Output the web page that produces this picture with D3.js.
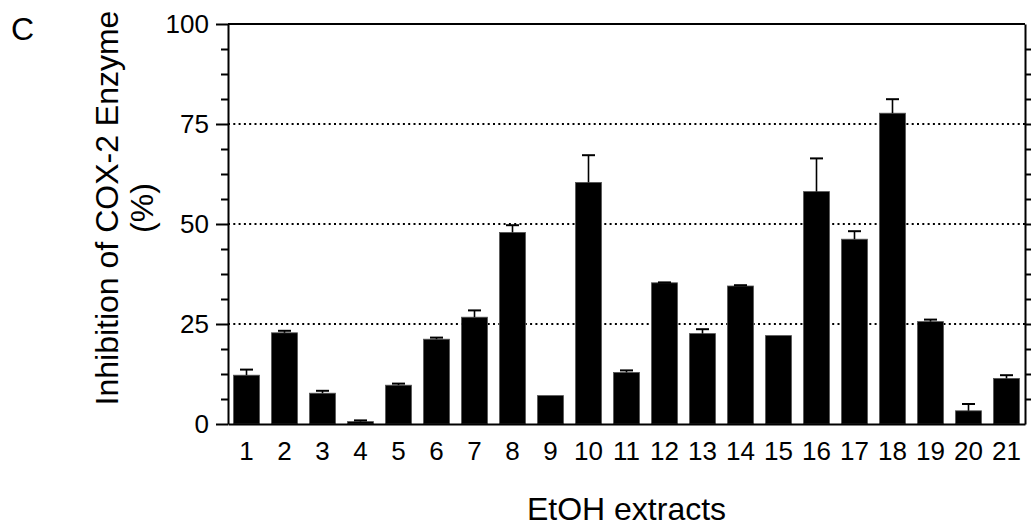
<!DOCTYPE html>
<html>
<head>
<meta charset="utf-8">
<script src="https://cdn.jsdelivr.net/npm/d3@7"></script>
<style>
  body { margin: 0; background: #fff; }
  svg { display: block; font-family: "Liberation Sans", Arial, sans-serif; }
  .axis path, .axis line { stroke: #000; stroke-width: 2; }
  .axis text { fill: #000; font-size: 26px; font-family: "Liberation Sans", Arial, sans-serif; }
</style>
</head>
<body>
<div id="chart"></div>
<script>
// extracts 1..21, inhibition (%) and SEM
const categories = ["1","2","3","4","5","6","7","8","9","10","11","12","13","14","15","16","17","18","19","20","21"];
const values = [12.2, 22.8, 7.7, 0.6, 9.7, 21.2, 26.7, 47.9, 7.1, 60.4, 12.9, 35.3, 22.6, 34.5, 22.1, 58.1, 46.2, 77.7, 25.6, 3.3, 11.4];
const errors = [1.4, 0.5, 0.6, 0.3, 0.4, 0.4, 1.7, 1.8, 0, 6.8, 0.5, 0.1, 1.1, 0.2, 0, 8.3, 2.0, 3.5, 0.5, 1.7, 0.8];
const yTicks = [0, 25, 50, 75, 100];
const gridVals = [25, 50, 75];

(() => {
  const width = 1032, height = 531;
  const left = 228, right = 1025, top = 24, bottom = 424;

  const svg = d3.select("#chart").append("svg")
    .attr("width", width).attr("height", height);

  const x = d3.scaleBand()
    .domain(categories)
    .range([left, right])
    .paddingInner(0.316)
    .paddingOuter(0.145);

  const y = d3.scaleLinear().domain([0, 100]).range([bottom, top]);

  const minor = d3.range(0, 100.01, 6.25).filter(v => !yTicks.includes(v));

  // grid
  svg.append("g").selectAll("line")
    .data(gridVals)
    .join("line")
    .attr("x1", left).attr("x2", right)
    .attr("y1", d => y(d)).attr("y2", d => y(d))
    .attr("stroke", "#000")
    .attr("stroke-width", 2)
    .attr("stroke-dasharray", "2,3.3");

  // bars
  svg.append("g").selectAll("rect")
    .data(categories)
    .join("rect")
    .attr("x", d => x(d))
    .attr("width", x.bandwidth())
    .attr("y", (d, i) => y(values[i]))
    .attr("height", (d, i) => y(0) - y(values[i]))
    .attr("fill", "#000")
    .attr("stroke", "#555")
    .attr("stroke-width", 0.8);

  // error bars (upper only)
  const eb = svg.append("g").selectAll("g")
    .data(categories.filter((d, i) => errors[i] > 0))
    .join("g");
  const idx = d => categories.indexOf(d);
  const cx = d => x(d) + x.bandwidth() / 2;
  eb.append("line")
    .attr("x1", cx).attr("x2", cx)
    .attr("y1", d => y(values[idx(d)]))
    .attr("y2", d => y(values[idx(d)] + errors[idx(d)]))
    .attr("stroke", "#000").attr("stroke-width", 1.6);
  eb.append("line")
    .attr("x1", d => cx(d) - 6.5).attr("x2", d => cx(d) + 6.5)
    .attr("y1", d => y(values[idx(d)] + errors[idx(d)]))
    .attr("y2", d => y(values[idx(d)] + errors[idx(d)]))
    .attr("stroke", "#000").attr("stroke-width", 2);

  // left axis, major + minor
  svg.append("g").attr("class", "axis")
    .attr("transform", `translate(${left},0)`)
    .call(d3.axisLeft(y).tickValues(yTicks).tickSize(12).tickSizeOuter(0).tickPadding(7));
  svg.append("g").attr("class", "axis")
    .attr("transform", `translate(${left},0)`)
    .call(d3.axisLeft(y).tickValues(minor).tickSize(7).tickFormat(""))
    .select(".domain").remove();

  // right axis
  svg.append("g").attr("class", "axis")
    .attr("transform", `translate(${right},0)`)
    .call(d3.axisRight(y).tickValues(d3.range(6.25, 100, 6.25)).tickSize(6).tickSizeOuter(0).tickFormat(""));

  // top border
  svg.append("line")
    .attr("x1", left).attr("x2", right)
    .attr("y1", y(100)).attr("y2", y(100))
    .attr("stroke", "#000").attr("stroke-width", 2);

  // x axis
  svg.append("g").attr("class", "axis")
    .attr("transform", `translate(0,${bottom})`)
    .call(d3.axisBottom(x).tickSize(0).tickSizeOuter(0).tickPadding(18));

  // titles
  svg.append("text")
    .attr("x", (left + right) / 2).attr("y", 520)
    .attr("text-anchor", "middle")
    .style("font-size", "32px")
    .text("EtOH extracts");

  const yt = svg.append("text")
    .attr("transform", "translate(0,208) rotate(-90)")
    .attr("text-anchor", "middle")
    .style("font-size", "32px");
  yt.append("tspan").attr("x", 0).attr("y", 118).text("Inhibition of COX-2 Enzyme");
  yt.append("tspan").attr("x", 0).attr("y", 153).text("(%)");

  svg.append("text")
    .attr("x", 11).attr("y", 40)
    .style("font-size", "32px")
    .text("C");
})();
</script>
</body>
</html>
